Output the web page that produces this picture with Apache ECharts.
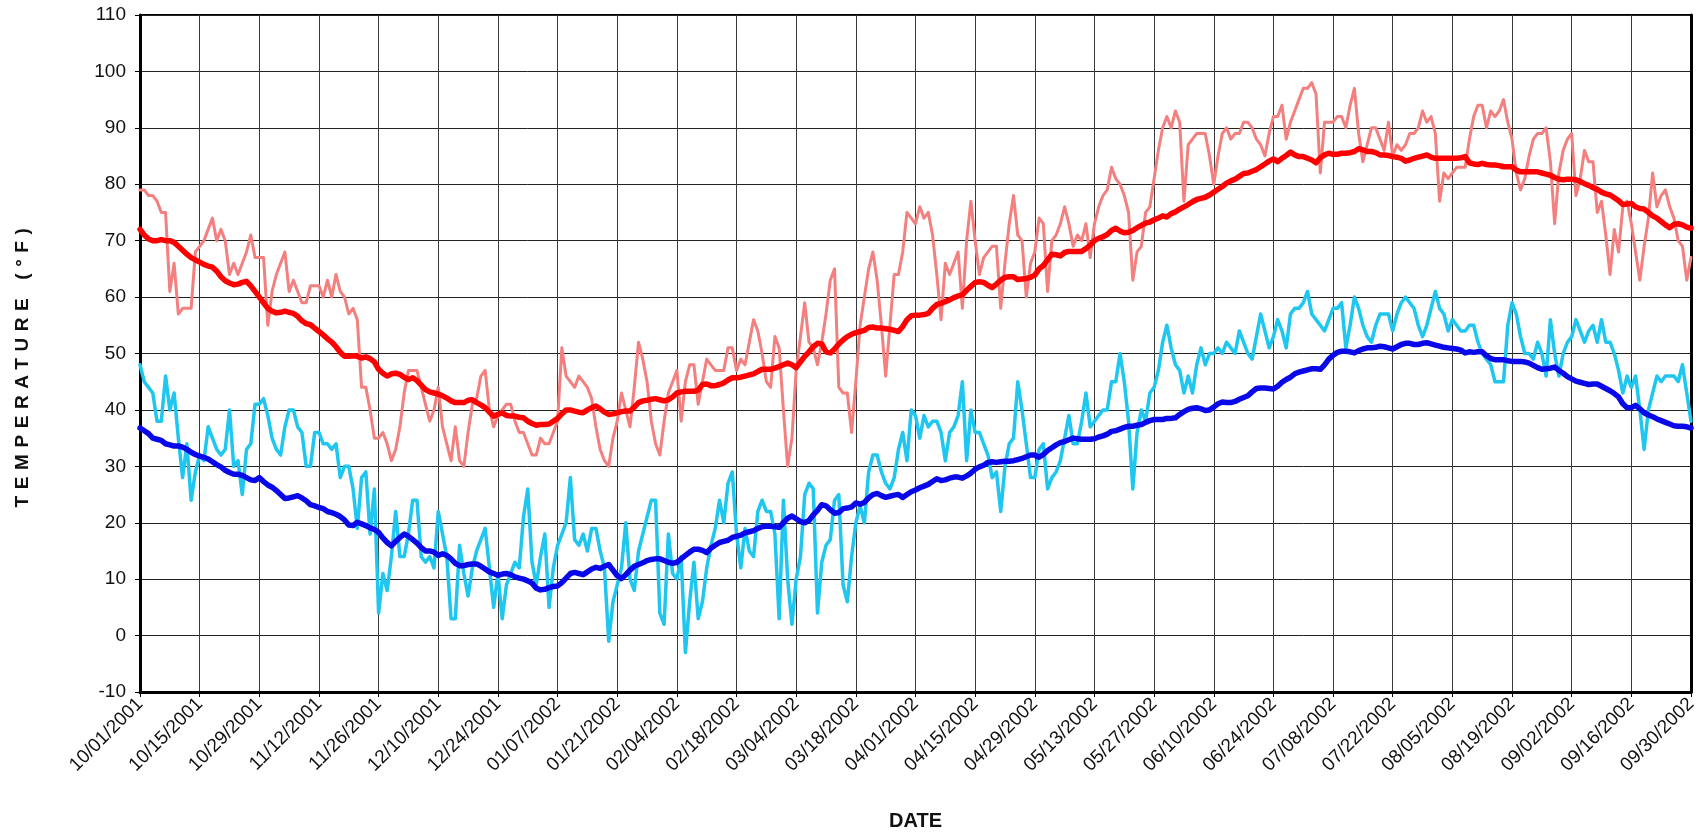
<!DOCTYPE html>
<html>
<head>
<meta charset="utf-8">
<script src="https://cdn.jsdelivr.net/npm/echarts@6/dist/echarts.min.js"></script>
<style>
html,body{margin:0;padding:0;background:#fff;}
#chart{width:1702px;height:836px;}
</style>
</head>
<body>
<div id="chart"></div>
<script>
// Daily record: 10/01/2001 .. 09/30/2002 (365 days)
var startDate = [2001, 10, 1];
var dayCount = 365;

var dailyHigh = [
79,79,78,78,77,75,75,61,66,57,
58,58,58,68,69,70,72,74,70,72,
70,64,66,64,66,68,71,67,67,67,
55,61,64,66,68,61,63,61,59,59,
62,62,62,60,63,60,64,61,60,57,
58,56,44,44,40,35,35,36,34,31,
33,37,43,47,47,47,44,41,38,40,
44,37,34,31,37,31,30,36,41,42,
46,47,40,37,39,40,41,41,38,36,
36,34,32,32,35,34,34,36,38,51,
46,45,44,46,45,44,42,37,33,31,
30,35,38,43,40,37,44,52,49,45,
38,34,32,38,43,45,47,38,45,48,
48,41,45,49,48,47,47,47,51,51,
47,49,48,52,56,54,50,45,44,53,
51,40,30,35,47,53,59,52,51,48,
52,57,63,65,44,43,43,36,45,55,
60,65,68,63,55,46,55,64,64,68,
75,74,73,76,74,75,71,64,56,66,
64,66,68,58,70,77,70,64,67,68,
69,69,58,66,73,78,71,70,60,66,
68,74,73,61,70,71,73,76,73,69,
71,70,73,67,73,76,78,79,83,81,
80,78,75,63,68,69,75,76,81,86,
90,92,90,93,91,77,87,88,89,89,
89,85,80,85,89,90,88,89,89,91,
91,90,88,87,85,89,92,92,94,88,
91,93,95,97,97,98,96,82,91,91,
91,92,92,90,94,97,89,84,87,90,
90,88,86,91,85,87,86,87,89,89,
90,93,91,92,89,77,82,81,82,83,
83,83,88,92,94,94,90,93,92,93,
95,91,88,82,79,81,85,88,89,89,
90,84,73,82,86,88,89,78,81,86,
84,84,75,77,71,64,72,68,76,77,
73,68,63,69,74,82,76,78,79,76,
74,70,69,63,67
];

var dailyLow = [
48,45,44,43,38,38,46,40,43,35,
28,34,24,29,32,31,37,35,33,32,
33,40,30,31,25,33,34,41,41,42,
39,35,33,32,37,40,40,37,36,30,
30,36,36,34,34,33,34,28,30,30,
26,19,28,29,18,26,4,11,8,14,
22,14,14,18,24,24,14,13,14,12,
22,18,14,3,3,16,11,7,12,15,
17,19,12,5,11,3,9,11,13,12,
21,26,13,9,14,18,5,12,16,18,
20,28,17,16,18,15,19,19,15,12,
-1,6,9,12,20,10,8,15,18,21,
24,24,4,2,18,11,10,14,-3,6,
13,3,6,12,16,19,24,20,27,29,
18,12,19,15,14,22,24,22,22,18,
3,24,10,2,10,14,25,27,26,4,
13,16,17,24,25,9,6,14,20,23,
20,29,32,32,29,27,26,28,33,36,
31,40,39,35,39,37,38,38,36,31,
36,37,39,45,31,40,36,36,34,32,
28,29,22,30,34,35,45,40,34,28,
28,33,34,26,28,29,31,35,39,34,
34,38,43,37,38,39,40,40,45,45,
50,45,38,26,36,40,38,43,44,47,
52,55,51,48,47,43,46,43,48,51,
48,50,50,51,50,52,51,50,54,52,
50,49,53,57,54,51,53,56,54,51,
57,58,58,59,61,57,56,55,54,56,
58,58,59,51,55,60,58,55,53,52,
55,57,57,57,54,57,59,60,59,58,
55,53,55,58,61,58,57,54,56,55,
54,54,55,55,52,50,49,48,45,45,
45,55,59,57,53,50,50,49,52,50,
46,56,50,46,50,52,53,56,54,52,
54,55,52,56,52,52,50,47,43,46,
44,46,40,33,40,43,46,45,46,46,
46,45,48,43,38
];

var normalHigh = [
72,71,70.3,70,70,70.2,70,70,69.7,69,
68.3,67.6,67,66.6,66.2,65.8,65.5,65.3,64.6,63.6,
62.9,62.5,62.2,62.3,62.6,62.8,62,61,60,59,
58,57.5,57.2,57.3,57.5,57.3,57.1,56.6,55.8,55.3,
55.1,54.5,53.9,53.3,52.6,52,51.2,50.2,49.5,49.5,
49.6,49.5,49.2,49.4,49.1,48.5,47.2,46.5,46,46.4,
46.5,46.3,45.8,45.4,45.7,45.2,44.4,43.6,43.2,43,
42.8,42.5,42.1,41.6,41.3,41.3,41.3,41.7,41.8,41.3,
40.9,40.4,39.6,38.9,39.2,39.5,39,38.9,38.9,38.7,
38.6,38,37.6,37.3,37.4,37.4,37.5,38,38.5,39.3,
40,40,39.8,39.6,39.5,40,40.4,40.7,40.2,39.6,
39.2,39.3,39.5,39.7,39.8,39.8,40.5,41.3,41.6,41.7,
41.9,42,41.8,41.6,41.8,42.3,43,43.2,43.3,43.3,
43.3,43.5,44.5,44.6,44.3,44.3,44.5,44.8,45.3,45.7,
45.7,45.8,46,46.2,46.4,46.8,47.2,47.2,47.2,47.4,
47.7,48,48.3,48,47.5,48.5,49.5,50.3,51.2,51.8,
51.7,50.3,50.1,50.8,51.7,52.4,53,53.4,53.7,53.9,
54.1,54.6,54.7,54.5,54.5,54.4,54.3,54.1,53.9,54.8,
56,56.7,56.8,56.8,56.9,57.1,58,58.7,58.9,59.2,
59.5,59.9,60.2,60.4,61.2,61.9,62.6,62.7,62.6,62.1,
61.7,62.3,63,63.5,63.6,63.6,63.1,63.2,63.3,63.5,
63.9,65,65.6,66.6,67.6,67.5,67.3,67.9,68.1,68.1,
68.1,68.1,68.6,69.2,70,70.4,70.7,71.1,71.8,72.2,
71.7,71.4,71.5,71.8,72.3,72.7,73.1,73.3,73.7,74,
74.4,74.2,74.8,75.1,75.6,76,76.4,76.9,77.3,77.5,
77.7,78.1,78.6,79.1,79.6,80.2,80.6,80.9,81.4,81.9,
82,82.3,82.6,83.1,83.6,84.1,84.5,84,84.6,85.1,
85.7,85.2,84.9,84.9,84.6,84.3,83.8,84.7,85.2,85.5,
85.3,85.3,85.5,85.5,85.6,85.8,86.3,86.1,85.8,85.8,
85.6,85.2,85.2,85.1,84.9,84.8,84.6,84.1,84.3,84.6,
84.8,85,85.2,84.8,84.6,84.6,84.6,84.6,84.6,84.6,
84.7,84.9,83.8,83.6,83.5,83.7,83.5,83.4,83.4,83.3,
83.1,83.1,83.1,82.5,82.2,82.2,82.2,82.2,82.2,82,
81.8,81.6,81.2,80.9,80.8,80.9,80.9,80.8,80.5,80.1,
79.8,79.4,79.1,78.6,78.3,78.1,77.6,77.1,76.4,76.5,
76.6,76,75.7,75.6,75,74.4,74,73.4,72.8,72.3,
72.9,73,72.8,72.4,72.2
];

var normalLow = [
36.8,36.3,35.8,35,34.8,34.6,34,33.8,33.6,33.6,
33.4,33,32.5,32.1,31.8,31.6,31.3,30.8,30.3,29.9,
29.3,28.9,28.6,28.6,28.4,28,27.6,27.5,28,27.3,
26.7,26.3,25.7,25,24.3,24.4,24.6,24.8,24.4,23.9,
23.2,23,22.7,22.5,22,21.8,21.5,21.1,20.5,19.6,
19.5,20.1,19.8,19.5,19.1,18.8,18.3,17.3,16.5,15.9,
16.7,17.4,18,17.6,17,16.4,15.6,15,15,14.8,
14.2,14.5,14.2,13.6,12.8,12.4,12.4,12.6,12.7,12.7,
12.3,11.8,11.3,11,10.7,10.9,11,10.8,10.4,10.2,
10,9.7,9.3,8.4,8.1,8.2,8.5,8.7,8.8,9.4,
10.2,11,11.2,11,10.8,11.3,11.8,12.1,11.9,12.3,
12.6,11.6,10.6,10.1,10.8,11.6,12.3,12.6,12.9,13.3,
13.5,13.6,13.6,13.3,13,12.8,13,13.6,14.2,14.8,
15.3,15.3,15.1,14.7,15.5,16,16.5,16.7,16.9,17.4,
17.6,17.8,18.2,18.4,18.6,19,19.3,19.4,19.4,19.3,
19.2,20,20.8,21.2,20.7,20.2,20,20.4,21.4,22.2,
23.2,23,22.3,21.7,21.8,22.5,22.6,22.8,23.5,23.3,
23.6,24.4,25,25.2,24.8,24.5,24.7,24.9,25,24.5,
25,25.5,25.8,26.2,26.5,26.8,27.3,27.8,27.5,27.6,
27.9,28.1,28.1,27.9,28.3,28.8,29.5,29.9,30.2,30.7,
30.8,30.7,30.8,30.9,30.9,31,31.2,31.4,31.7,32,
32,31.6,32.1,32.8,33.3,33.8,34.2,34.4,34.7,35,
34.9,34.8,34.8,34.8,34.9,35.2,35.4,35.7,36.2,36.3,
36.6,36.9,37.1,37.1,37.3,37.4,37.8,38.1,38.3,38.3,
38.3,38.5,38.5,38.6,39.2,39.7,40.1,40.3,40.4,40.2,
39.9,40,40.5,41.1,41.4,41.3,41.3,41.5,41.9,42.2,
42.5,43.2,43.8,43.9,43.9,43.8,43.7,44.2,44.9,45.4,
45.8,46.4,46.7,46.9,47.1,47.3,47.3,47.2,48,49,
49.7,50.2,50.4,50.4,50.3,50.1,50.5,50.8,51,51,
51.1,51.3,51.2,51,50.8,51.2,51.6,51.8,51.8,51.6,
51.6,51.8,51.9,51.7,51.5,51.3,51.1,51,50.9,50.8,
50.6,50.1,50.3,50.2,50.3,50.3,49.6,49.1,48.9,48.9,
48.9,48.7,48.6,48.6,48.6,48.5,48.3,47.9,47.5,47.2,
47.3,47.4,47.6,47,46.5,45.9,45.5,45.1,44.9,44.7,
44.5,44.6,44.6,44.2,43.8,43.4,42.9,42.3,41.1,40.4,
40.4,40.8,40.2,39.5,39.1,38.8,38.4,38.1,37.8,37.5,
37.2,37.1,37.1,37,36.8
];

var yTicks = { min: -10, max: 110, step: 10 };
var yTitle = 'TEMPERATURE (\u00B0F)';
var xTitle = 'DATE';

// category labels: one per day
function pad(n){ return (n < 10 ? '0' : '') + n; }
var categories = [];
(function(){
  var t0 = Date.UTC(startDate[0], startDate[1] - 1, startDate[2]);
  for (var i = 0; i < dayCount; i++) {
    var d = new Date(t0 + i * 86400000);
    categories.push(pad(d.getUTCMonth() + 1) + '/' + pad(d.getUTCDate()) + '/' + d.getUTCFullYear());
  }
})();

// the y-axis title in the reference is drawn with wide character spacing;
// apply it only to that one text, inside save/restore so nothing else is affected
(function(){
  var proto = CanvasRenderingContext2D.prototype;
  var origFill = proto.fillText;
  proto.fillText = function(t, x, y, w) {
    if (t === yTitle && ('letterSpacing' in this)) {
      this.save();
      var f = this.font;
      this.letterSpacing = '6.6px';
      this.font = f;
      var r = (w === undefined) ? origFill.call(this, t, x, y) : origFill.call(this, t, x, y, w);
      this.restore();
      this.letterSpacing = '0px';
      var f2 = this.font;
      this.font = '10px sans-serif';
      this.font = f2;
      return r;
    }
    return (w === undefined) ? origFill.call(this, t, x, y) : origFill.call(this, t, x, y, w);
  };
})();

var FONT = '"Liberation Sans", Arial, sans-serif';
var chart = echarts.init(document.getElementById('chart'), null, { renderer: 'canvas' });

function lineSeries(name, data, color, width, z) {
  return {
    name: name, type: 'line', data: data, symbol: 'none', smooth: false,
    lineStyle: { color: color, width: width, join: 'round', cap: 'round' },
    itemStyle: { color: color }, z: z, animation: false, silent: true
  };
}

chart.setOption({
  backgroundColor: '#ffffff',
  animation: false,
  grid: { left: 140, right: 11, top: 15, bottom: 143, show: true, borderColor: '#000', borderWidth: 2, containLabel: false },
  xAxis: {
    type: 'category', data: categories, boundaryGap: false,
    name: xTitle, nameLocation: 'middle', nameGap: 119,
    nameTextStyle: { fontFamily: FONT, fontSize: 20, fontWeight: 'bold', color: '#111' },
    axisLine: { show: true, onZero: false, lineStyle: { color: '#000', width: 3 } },
    axisTick: { show: true, interval: 13, length: 5, lineStyle: { color: '#000', width: 1 } },
    axisLabel: { interval: 13, rotate: 45, margin: 9, fontFamily: FONT, fontSize: 19, color: '#111' },
    splitLine: { show: true, interval: 13, lineStyle: { color: '#3a3a3a', width: 1 } }
  },
  yAxis: [{
    type: 'value', min: yTicks.min, max: yTicks.max, interval: yTicks.step,
    name: yTitle, nameLocation: 'middle', nameGap: 108,
    nameTextStyle: { fontFamily: FONT, fontSize: 19, fontWeight: 'bold', color: '#111', padding: [0, 22, 0, 0] },
    axisLine: { show: true, onZero: false, lineStyle: { color: '#000', width: 3 } },
    axisTick: { show: true, length: 5, lineStyle: { color: '#000', width: 1 } },
    axisLabel: { margin: 14, fontFamily: FONT, fontSize: 19, color: '#111' },
    splitLine: { show: true, lineStyle: { color: '#222', width: 1 } }
  }, {
    type: 'value', position: 'right', min: yTicks.min, max: yTicks.max, interval: yTicks.step,
    axisLine: { show: true, onZero: false, lineStyle: { color: '#000', width: 3 } },
    axisTick: { show: false }, axisLabel: { show: false }, splitLine: { show: false }
  }],
  series: [
    lineSeries('Daily High', dailyHigh, '#f47f7f', 3, 2),
    lineSeries('Daily Low', dailyLow, '#1ec6f0', 3.5, 3),
    lineSeries('Normal High', normalHigh, '#ff0000', 5.5, 4),
    lineSeries('Normal Low', normalLow, '#0808e8', 5.5, 5)
  ]
});
</script>
</body>
</html>
